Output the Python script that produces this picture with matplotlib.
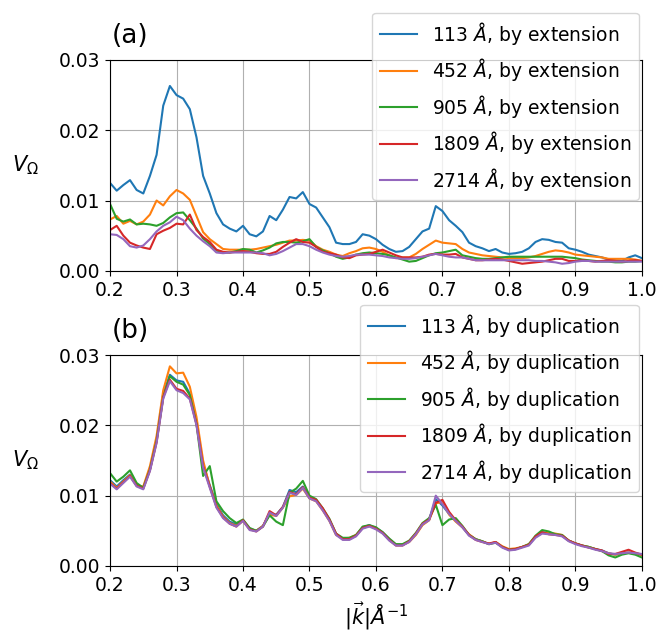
import numpy as np
import matplotlib
matplotlib.use('Agg')
import matplotlib.pyplot as plt

# wavevector grid, |k| in 1/Angstrom
k = np.round(np.arange(0.20, 1.001, 0.01), 2)

lengths = ['113', '452', '905', '1809', '2714']
colors = ['tab:blue', 'tab:orange', 'tab:green', 'tab:red', 'tab:purple']

# (a) box enlarged by extension
ext_113 = [0.0125, 0.0114, 0.0122, 0.0129, 0.0115, 0.0110, 0.0135, 0.0165, 0.0235, 0.0263,
           0.0250, 0.0245, 0.0230, 0.0190, 0.0135, 0.0110, 0.0082, 0.0066, 0.0060, 0.0056,
           0.0064, 0.0052, 0.0049, 0.0056, 0.0078, 0.0072, 0.0087, 0.0105, 0.0103, 0.0112,
           0.0095, 0.0090, 0.0076, 0.0062, 0.0040, 0.0038, 0.0038, 0.0041, 0.0052, 0.0050,
           0.0045, 0.0037, 0.0031, 0.0027, 0.0028, 0.0034, 0.0045, 0.0056, 0.0060, 0.0092,
           0.0085, 0.0072, 0.0064, 0.0055, 0.0040, 0.0035, 0.0032, 0.0028, 0.0031, 0.0026,
           0.0024, 0.0025, 0.0027, 0.0032, 0.0041, 0.0045, 0.0044, 0.0041, 0.0040, 0.0032,
           0.0030, 0.0027, 0.0023, 0.0021, 0.0019, 0.0016, 0.0015, 0.0014, 0.0019, 0.0022, 0.0018]
ext_452 = [0.0073, 0.0078, 0.0067, 0.0071, 0.0066, 0.0070, 0.0080, 0.0100, 0.0093, 0.0106,
           0.0115, 0.0110, 0.0101, 0.0078, 0.0055, 0.0045, 0.0038, 0.0031, 0.0030, 0.0030,
           0.0030, 0.0030, 0.0031, 0.0033, 0.0035, 0.0037, 0.0040, 0.0043, 0.0043, 0.0044,
           0.0043, 0.0035, 0.0030, 0.0027, 0.0023, 0.0021, 0.0025, 0.0028, 0.0032, 0.0033,
           0.0031, 0.0027, 0.0022, 0.0018, 0.0019, 0.0019, 0.0024, 0.0031, 0.0037, 0.0043,
           0.0040, 0.0039, 0.0038, 0.0031, 0.0026, 0.0024, 0.0022, 0.0021, 0.0020, 0.0019,
           0.0018, 0.0018, 0.0018, 0.0019, 0.0021, 0.0024, 0.0027, 0.0029, 0.0028, 0.0026,
           0.0023, 0.0022, 0.0021, 0.0020, 0.0019, 0.0017, 0.0017, 0.0017, 0.0017, 0.0016, 0.0014]
ext_905 = [0.0095, 0.0074, 0.0070, 0.0073, 0.0066, 0.0067, 0.0066, 0.0064, 0.0068, 0.0076,
           0.0082, 0.0083, 0.0072, 0.0060, 0.0046, 0.0038, 0.0029, 0.0026, 0.0026, 0.0028,
           0.0031, 0.0030, 0.0026, 0.0029, 0.0033, 0.0039, 0.0041, 0.0041, 0.0040, 0.0042,
           0.0045, 0.0034, 0.0029, 0.0025, 0.0020, 0.0017, 0.0019, 0.0023, 0.0025, 0.0026,
           0.0025, 0.0024, 0.0022, 0.0019, 0.0016, 0.0013, 0.0014, 0.0018, 0.0022, 0.0025,
           0.0026, 0.0028, 0.0030, 0.0022, 0.0020, 0.0018, 0.0017, 0.0017, 0.0018, 0.0019,
           0.0020, 0.0020, 0.0020, 0.0020, 0.0020, 0.0020, 0.0020, 0.0020, 0.0020, 0.0019,
           0.0018, 0.0016, 0.0015, 0.0014, 0.0013, 0.0013, 0.0012, 0.0012, 0.0013, 0.0013, 0.0014]
ext_1809 = [0.0058, 0.0064, 0.0050, 0.0040, 0.0036, 0.0033, 0.0031, 0.0052, 0.0057, 0.0061,
            0.0067, 0.0066, 0.0080, 0.0058, 0.0048, 0.0041, 0.0030, 0.0027, 0.0026, 0.0027,
            0.0028, 0.0027, 0.0025, 0.0024, 0.0024, 0.0027, 0.0034, 0.0040, 0.0045, 0.0041,
            0.0040, 0.0034, 0.0027, 0.0025, 0.0023, 0.0019, 0.0018, 0.0022, 0.0023, 0.0024,
            0.0027, 0.0030, 0.0026, 0.0022, 0.0019, 0.0019, 0.0019, 0.0020, 0.0023, 0.0024,
            0.0023, 0.0023, 0.0024, 0.0019, 0.0017, 0.0015, 0.0015, 0.0016, 0.0017, 0.0016,
            0.0014, 0.0012, 0.0010, 0.0011, 0.0012, 0.0013, 0.0015, 0.0017, 0.0017, 0.0014,
            0.0014, 0.0015, 0.0014, 0.0013, 0.0014, 0.0015, 0.0014, 0.0013, 0.0014, 0.0015, 0.0014]
ext_2714 = [0.0052, 0.0051, 0.0045, 0.0035, 0.0033, 0.0036, 0.0045, 0.0056, 0.0064, 0.0069,
            0.0077, 0.0072, 0.0060, 0.0050, 0.0042, 0.0035, 0.0026, 0.0025, 0.0026, 0.0026,
            0.0026, 0.0026, 0.0026, 0.0025, 0.0022, 0.0024, 0.0028, 0.0033, 0.0038, 0.0038,
            0.0035, 0.0030, 0.0026, 0.0023, 0.0021, 0.0020, 0.0021, 0.0023, 0.0023, 0.0023,
            0.0022, 0.0021, 0.0019, 0.0018, 0.0017, 0.0017, 0.0018, 0.0020, 0.0022, 0.0024,
            0.0022, 0.0020, 0.0019, 0.0019, 0.0017, 0.0015, 0.0015, 0.0015, 0.0015, 0.0015,
            0.0015, 0.0015, 0.0015, 0.0015, 0.0014, 0.0014, 0.0013, 0.0012, 0.0010, 0.0011,
            0.0013, 0.0014, 0.0014, 0.0013, 0.0013, 0.0013, 0.0013, 0.0013, 0.0013, 0.0013, 0.0013]

# (b) box enlarged by duplication
dup_113 = [0.0122, 0.0113, 0.0122, 0.0130, 0.0116, 0.0112, 0.0138, 0.0180, 0.0245, 0.0272,
           0.0264, 0.0262, 0.0245, 0.0205, 0.0145, 0.0115, 0.0088, 0.0072, 0.0063, 0.0059,
           0.0065, 0.0053, 0.0050, 0.0057, 0.0074, 0.0073, 0.0084, 0.0108, 0.0105, 0.0113,
           0.0097, 0.0093, 0.0080, 0.0065, 0.0045, 0.0039, 0.0039, 0.0043, 0.0055, 0.0058,
           0.0054, 0.0048, 0.0038, 0.0030, 0.0030, 0.0035, 0.0045, 0.0059, 0.0066, 0.0095,
           0.0086, 0.0074, 0.0064, 0.0055, 0.0044, 0.0038, 0.0035, 0.0031, 0.0034, 0.0027,
           0.0023, 0.0024, 0.0027, 0.0030, 0.0041, 0.0048, 0.0046, 0.0045, 0.0043, 0.0036,
           0.0032, 0.0029, 0.0027, 0.0024, 0.0022, 0.0018, 0.0016, 0.0018, 0.0019, 0.0018, 0.0016]
dup_452 = [0.0120, 0.0111, 0.0120, 0.0129, 0.0114, 0.0113, 0.0142, 0.0185, 0.0250, 0.0284,
           0.0274, 0.0275, 0.0255, 0.0212, 0.0150, 0.0113, 0.0086, 0.0070, 0.0061, 0.0057,
           0.0064, 0.0052, 0.0050, 0.0057, 0.0073, 0.0071, 0.0083, 0.0099, 0.0101, 0.0110,
           0.0096, 0.0092, 0.0079, 0.0064, 0.0044, 0.0039, 0.0040, 0.0044, 0.0054, 0.0057,
           0.0053, 0.0047, 0.0037, 0.0030, 0.0030, 0.0034, 0.0044, 0.0058, 0.0065, 0.0089,
           0.0091, 0.0073, 0.0063, 0.0055, 0.0045, 0.0038, 0.0035, 0.0031, 0.0034, 0.0028,
           0.0024, 0.0025, 0.0027, 0.0031, 0.0041, 0.0047, 0.0047, 0.0046, 0.0044, 0.0036,
           0.0032, 0.0029, 0.0027, 0.0024, 0.0021, 0.0018, 0.0016, 0.0018, 0.0019, 0.0017, 0.0016]
dup_905 = [0.0132, 0.0120, 0.0127, 0.0136, 0.0118, 0.0111, 0.0137, 0.0178, 0.0240, 0.0270,
           0.0262, 0.0258, 0.0243, 0.0202, 0.0128, 0.0142, 0.0092, 0.0078, 0.0068, 0.0061,
           0.0066, 0.0054, 0.0050, 0.0056, 0.0072, 0.0063, 0.0058, 0.0104, 0.0110, 0.0121,
           0.0100, 0.0095, 0.0082, 0.0067, 0.0046, 0.0040, 0.0040, 0.0044, 0.0056, 0.0058,
           0.0055, 0.0048, 0.0039, 0.0031, 0.0031, 0.0036, 0.0047, 0.0061, 0.0068, 0.0087,
           0.0058, 0.0066, 0.0068, 0.0057, 0.0044, 0.0038, 0.0035, 0.0031, 0.0033, 0.0027,
           0.0023, 0.0024, 0.0027, 0.0031, 0.0043, 0.0051, 0.0049, 0.0045, 0.0044, 0.0036,
           0.0032, 0.0029, 0.0027, 0.0024, 0.0021, 0.0015, 0.0012, 0.0016, 0.0018, 0.0016, 0.0012]
dup_1809 = [0.0118, 0.0110, 0.0119, 0.0128, 0.0114, 0.0110, 0.0136, 0.0176, 0.0240, 0.0265,
            0.0252, 0.0249, 0.0238, 0.0202, 0.0142, 0.0113, 0.0084, 0.0069, 0.0060, 0.0056,
            0.0065, 0.0052, 0.0049, 0.0056, 0.0078, 0.0072, 0.0084, 0.0105, 0.0102, 0.0112,
            0.0097, 0.0094, 0.0082, 0.0066, 0.0046, 0.0038, 0.0038, 0.0043, 0.0054, 0.0057,
            0.0053, 0.0047, 0.0037, 0.0029, 0.0029, 0.0035, 0.0046, 0.0060, 0.0066, 0.0090,
            0.0094, 0.0077, 0.0065, 0.0056, 0.0044, 0.0037, 0.0034, 0.0032, 0.0034, 0.0027,
            0.0023, 0.0024, 0.0027, 0.0030, 0.0042, 0.0048, 0.0045, 0.0044, 0.0043, 0.0036,
            0.0032, 0.0029, 0.0026, 0.0024, 0.0022, 0.0017, 0.0017, 0.0020, 0.0023, 0.0019, 0.0016]
dup_2714 = [0.0117, 0.0109, 0.0118, 0.0127, 0.0113, 0.0109, 0.0135, 0.0175, 0.0238, 0.0263,
            0.0250, 0.0246, 0.0237, 0.0200, 0.0140, 0.0111, 0.0083, 0.0068, 0.0060, 0.0056,
            0.0064, 0.0051, 0.0049, 0.0056, 0.0076, 0.0071, 0.0083, 0.0104, 0.0101, 0.0111,
            0.0096, 0.0092, 0.0079, 0.0064, 0.0044, 0.0037, 0.0037, 0.0042, 0.0053, 0.0056,
            0.0052, 0.0046, 0.0036, 0.0029, 0.0029, 0.0034, 0.0045, 0.0059, 0.0065, 0.0100,
            0.0088, 0.0074, 0.0064, 0.0055, 0.0043, 0.0037, 0.0034, 0.0031, 0.0033, 0.0026,
            0.0022, 0.0023, 0.0026, 0.0029, 0.0040, 0.0046, 0.0045, 0.0044, 0.0042, 0.0035,
            0.0031, 0.0028, 0.0026, 0.0023, 0.0021, 0.0018, 0.0017, 0.0018, 0.0019, 0.0018, 0.0017]

extension = [ext_113, ext_452, ext_905, ext_1809, ext_2714]
duplication = [dup_113, dup_452, dup_905, dup_1809, dup_2714]

plt.rcParams['font.size'] = 13.5

fig, axes = plt.subplots(2, 1, figsize=(6.59, 6.38), dpi=100)
fig.subplots_adjust(left=0.167, right=0.974, top=0.906, bottom=0.113, hspace=0.40)

panels = [(axes[0], extension, 'by extension', '(a)', 1.225),
          (axes[1], duplication, 'by duplication', '(b)', 1.24)]

for ax, series, how, tag, leg_top in panels:
    for L, v, c in zip(lengths, series, colors):
        ax.plot(k, v, color=c, lw=1.5, label=r'%s $\AA$, %s' % (L, how))
    ax.set_xlim(0.2, 1.0)
    ax.set_ylim(0.0, 0.03)
    ax.set_xticks(np.arange(0.2, 1.01, 0.1))
    ax.set_yticks([0.0, 0.01, 0.02, 0.03])
    ax.set_yticklabels(['0.00', '0.01', '0.02', '0.03'])
    ax.grid(True)
    ax.set_ylabel(r'$V_\Omega$', rotation=0, fontsize=15, ha='center', va='center')
    ax.yaxis.set_label_coords(-0.16, 0.5)
    ax.text(0.004, 1.08, tag, transform=ax.transAxes, fontsize=19, va='baseline')
    ax.legend(loc='upper right', bbox_to_anchor=(0.995, leg_top), borderaxespad=0,
              fontsize=13.5)

axes[1].set_xlabel(r'$|\vec{k}|\AA^{-1}$', fontsize=15)

fig.savefig('out.png', dpi=100)
